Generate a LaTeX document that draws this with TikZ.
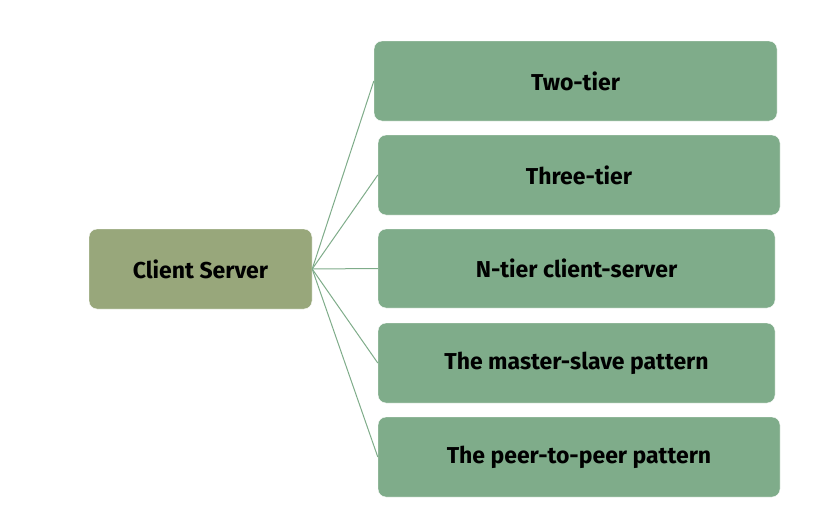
\documentclass[tikz,border=0pt]{standalone}
\usepackage{fontspec}
\setmainfont{Fira Sans}
\definecolor{rootgreen}{HTML}{98A77B}
\definecolor{leafgreen}{HTML}{7FAC8A}
\begin{document}
\begin{tikzpicture}[x=1pt, y=-1pt]
  \tikzset{every node/.style={font=\bfseries\fontsize{23}{27}\selectfont, text=black},
           rootbox/.style={fill=rootgreen, draw=white, rounded corners=8pt, minimum height=80pt, inner sep=0pt},
           leafbox/.style={fill=leafgreen, draw=white, rounded corners=8pt, minimum height=80pt, inner sep=0pt},
           branch/.style={draw=leafgreen, line width=1pt}}
  \useasboundingbox (0,0) rectangle (830,522);
  \node[rootbox, minimum width=223pt] (client) at (200.5,269) {Client Server};
  \node[leafbox, minimum width=403pt] (twotier) at (575.5,81) {Two-tier};
  \node[leafbox, minimum width=402pt] (threetier) at (579,175) {Three-tier};
  \node[leafbox, minimum width=397pt, minimum height=79pt] (ntier) at (576.5,268.5) {N-tier client-server};
  \node[leafbox, minimum width=397pt] (masterslave) at (576.5,363) {The master-slave pattern};
  \node[leafbox, minimum width=402pt] (peer) at (579,457) {The peer-to-peer pattern};
  % branches
  \foreach \leaf in {twotier,threetier,ntier,masterslave,peer}
    \draw[branch] (client.east) -- (\leaf.west);
\end{tikzpicture}
\end{document}
